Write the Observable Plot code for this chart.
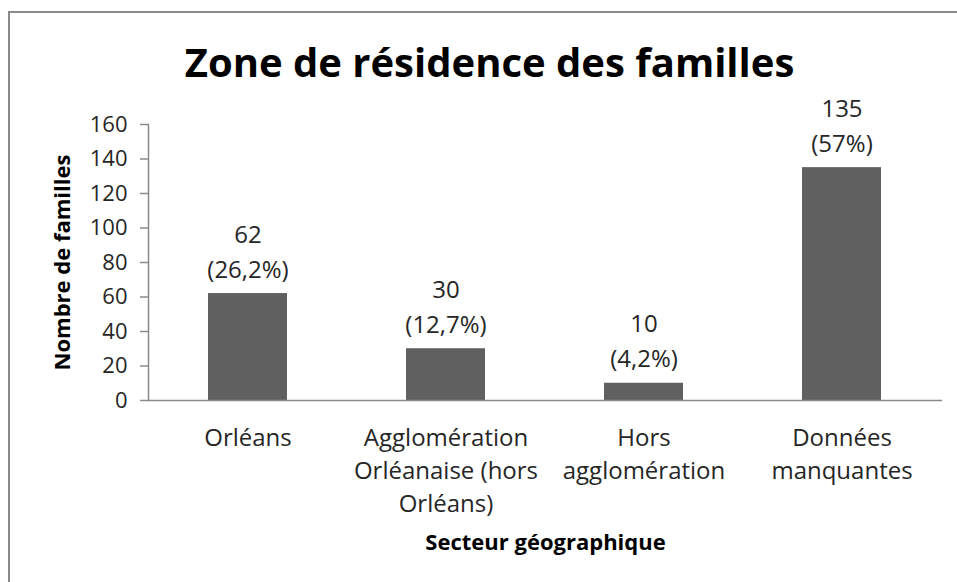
<!DOCTYPE html>
<html>
<head>
<meta charset="utf-8">
<script src="https://cdn.jsdelivr.net/npm/d3@7"></script>
<script src="https://cdn.jsdelivr.net/npm/@observablehq/plot@0.6"></script>
<style>
  html, body { margin: 0; padding: 0; background: #fff; width: 957px; height: 582px; overflow: hidden; }
  #wrap { position: relative; width: 957px; height: 582px; overflow: hidden; }
  #btop { position: absolute; left: 8px; top: 11px; width: 949px; height: 2px; background: #8a8a8a; }
  #bleft { position: absolute; left: 8px; top: 11px; width: 2px; height: 571px; background: #8a8a8a; }
  #chart { position: absolute; left: 0; top: 0; }
</style>
</head>
<body>
<div id="wrap"><div id="btop"></div><div id="bleft"></div><div id="chart"></div></div>
<script>
const title = "Zone de résidence des familles";
const yLabel = "Nombre de familles";
const xLabel = "Secteur géographique";
const categories = ["Orléans", "Agglomération Orléanaise (hors Orléans)", "Hors agglomération", "Données manquantes"];
const tickLabels = ["Orléans", "Agglomération\nOrléanaise (hors\nOrléans)", "Hors\nagglomération", "Données\nmanquantes"];
const values = [62, 30, 10, 135];
const percents = ["26,2%", "12,7%", "4,2%", "57%"];
const yTicks = [0, 20, 40, 60, 80, 100, 120, 140, 160];

const data = categories.map((c, i) => ({cat: c, value: values[i], label: `${values[i]}\n(${percents[i]})`}));
const tickMap = new Map(categories.map((c, i) => [c, tickLabels[i]]));

const chart = Plot.plot({
  width: 957,
  height: 582,
  marginLeft: 148,
  marginRight: 15,
  marginTop: 124,
  marginBottom: 182,
  style: {fontFamily: "'Open Sans', sans-serif", fontSize: "24px", color: "#262626", background: "transparent"},
  x: {domain: categories, paddingInner: 0.6, paddingOuter: 0.3, label: null},
  y: {domain: [0, 160], label: null},
  marks: [
    Plot.barY(data, {x: "cat", y: "value", fill: "#606060"}),
    Plot.ruleY([0], {stroke: "#8a8a8a", strokeWidth: 1.5}),
    Plot.frame({anchor: "left", stroke: "#8a8a8a", strokeWidth: 1.5}),
    Plot.axisY({ticks: yTicks, tickSize: 8, tickPadding: 13, stroke: "#8a8a8a", strokeWidth: 1.5, fill: "#262626", fontSize: 22, label: null}),
    Plot.axisX({tickSize: 0, tickPadding: 22, tickFormat: d => tickMap.get(d), lineHeight: 1.38, fill: "#262626", fontSize: 24, label: null}),
    Plot.text(data, {x: "cat", y: "value", text: "label", lineAnchor: "bottom", lineHeight: 1.45, dy: -16, fontSize: 24, fill: "#262626"}),
    Plot.text([title], {frameAnchor: "top", lineAnchor: "middle", textAnchor: "middle", dx: -56, dy: -60, fontSize: 40, fontWeight: "bold", fill: "#000"}),
    Plot.text([yLabel], {frameAnchor: "left", textAnchor: "middle", lineAnchor: "middle", rotate: -90, dx: -86, fontSize: 22, fontWeight: "bold", fill: "#000"}),
    Plot.text([xLabel], {frameAnchor: "bottom", textAnchor: "middle", lineAnchor: "middle", dy: 142, fontSize: 22, fontWeight: "bold", fill: "#000"})
  ]
});
document.getElementById("chart").appendChild(chart);
</script>
</body>
</html>
